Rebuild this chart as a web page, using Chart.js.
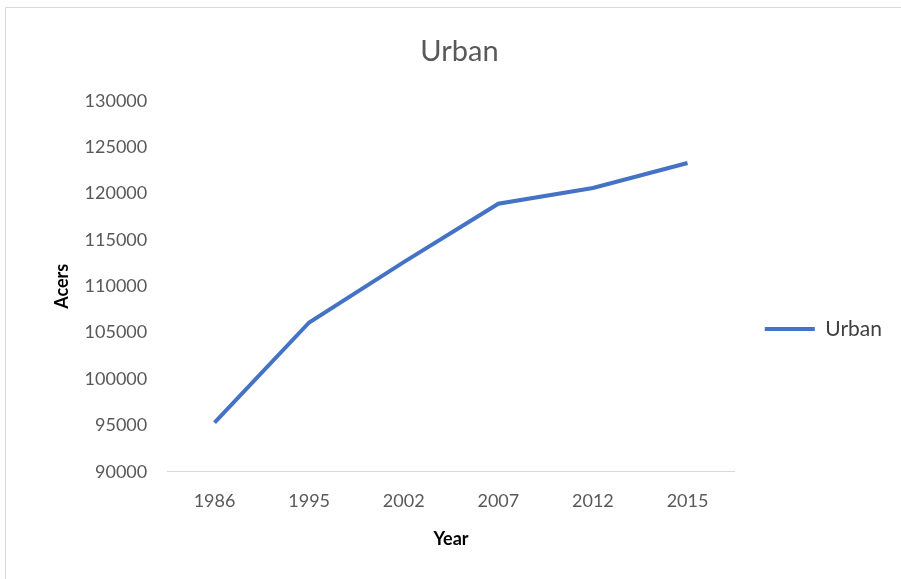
<!DOCTYPE html>
<html>
<head>
<meta charset="utf-8">
<script src="https://cdn.jsdelivr.net/npm/chart.js@4"></script>
<style>
  body { margin: 0; background: #fff; }
  #wrap { width: 901px; height: 579px; }
</style>
</head>
<body>
<div id="wrap"><canvas id="line-chart" width="901" height="579"></canvas></div>
<script>
// urban area (acres) by survey year
var years = ['1986', '1995', '2002', '2007', '2012', '2015'];
var urban = [95300, 106100, 112600, 118900, 120600, 123300];

var yMin = 90000;
var yMax = 130000;
var yStep = 5000;

// thin grey frame on the top and left edges
var frame = {
    id: 'frame',
    beforeDraw: function(chart){
        var ctx = chart.ctx;
        ctx.save();
        ctx.strokeStyle = '#d9d9d9';
        ctx.lineWidth = 1;
        ctx.beginPath();
        ctx.moveTo(5.5, chart.height);
        ctx.lineTo(5.5, 7.5);
        ctx.lineTo(chart.width, 7.5);
        ctx.stroke();
        ctx.restore();
    }
};

// move the legend entry down and away from the plot
var legendShift = {
    id: 'legendShift',
    afterLayout: function(chart){
        var lg = chart.legend;
        lg.top += 40;
        lg.bottom += 40;
        lg.left += 20;
        lg.right += 20;
    }
};

new Chart(document.getElementById('line-chart'), {
    type: 'line',
    data: {
        labels: years,
        datasets: [
            {
                label: 'Urban',
                data: urban,
                borderColor: '#4472c4',
                backgroundColor: '#4472c4',
                borderWidth: 4,
                pointRadius: 0,
                tension: 0
            }
        ]
    },
    options: {
        responsive: false,
        animation: false,
        layout: {
            padding: { left: 47, right: 29, top: 24, bottom: 25 }
        },
        scales: {
            x: {
                offset: true,
                grid: { display: false },
                border: { display: true, color: '#d9d9d9', width: 1 },
                ticks: {
                    color: '#595959',
                    padding: 11,
                    font: { family: 'Lato', size: 18 }
                },
                title: {
                    display: true,
                    text: 'Year',
                    color: '#000',
                    padding: { top: 5 },
                    font: { family: 'Lato', size: 18, weight: 'bold' }
                }
            },
            y: {
                min: yMin,
                max: yMax,
                grid: { display: false },
                border: { display: false },
                ticks: {
                    stepSize: yStep,
                    color: '#595959',
                    padding: 12,
                    font: { family: 'Lato', size: 18 },
                    callback: function(v){ return v; }
                },
                title: {
                    display: true,
                    text: 'Acers',
                    color: '#000',
                    padding: { bottom: 0 },
                    font: { family: 'Lato', size: 18, weight: 'bold' }
                }
            }
        },
        plugins: {
            title: {
                display: true,
                text: 'Urban',
                color: '#595959',
                padding: { top: 10, bottom: 32 },
                font: { family: 'Lato', size: 29, weight: 'normal' }
            },
            legend: {
                position: 'right',
                labels: {
                    usePointStyle: true,
                    pointStyle: 'line',
                    pointStyleWidth: 50,
                    color: '#404040',
                    padding: 10,
                    font: { family: 'Lato', size: 21 }
                }
            },
            tooltip: { enabled: false }
        }
    },
    plugins: [frame, legendShift]
});
</script>
</body>
</html>
